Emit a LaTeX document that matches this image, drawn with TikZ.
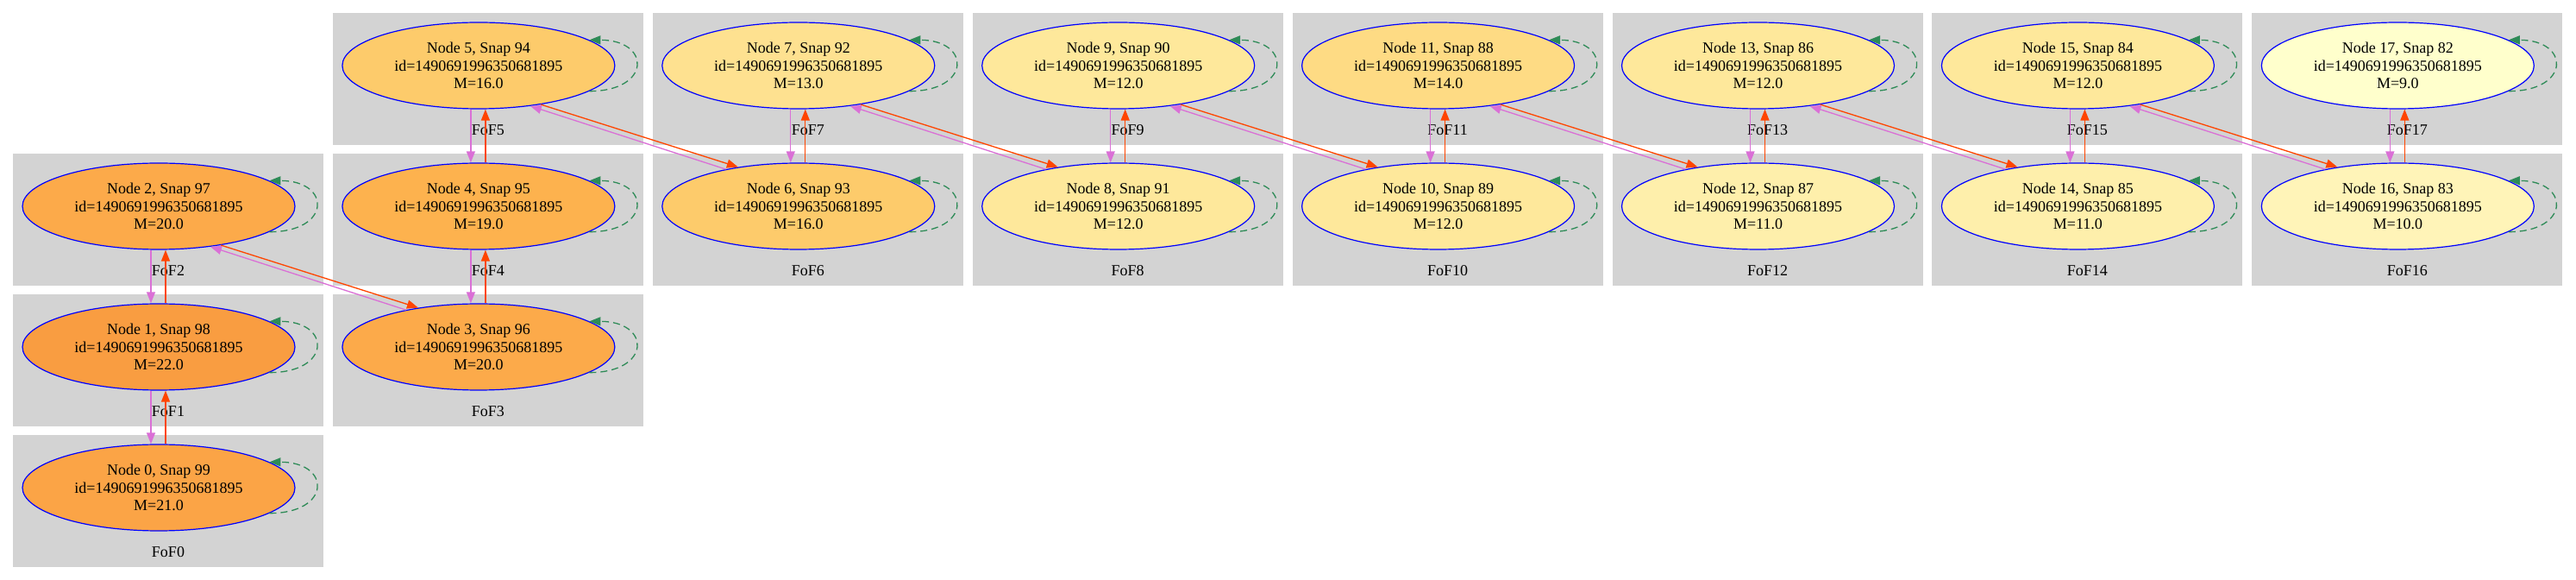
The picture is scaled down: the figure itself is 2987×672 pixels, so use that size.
\documentclass[tikz,border=0pt]{standalone}
\usepackage{fontspec}
\setmainfont{Liberation Serif}
\usetikzlibrary{arrows.meta,shapes.geometric}
\definecolor{fofgray}{HTML}{D3D3D3}
\definecolor{desccolor}{HTML}{DA70D6}
\definecolor{progcolor}{HTML}{FF4500}
\definecolor{selfcolor}{HTML}{2E8B57}
% node fill, by mass
\definecolor{m9}{HTML}{FFFFCC}
\definecolor{m10}{HTML}{FFF4B8}
\definecolor{m11}{HTML}{FEEFAB}
\definecolor{m12}{HTML}{FEE89B}
\definecolor{m13}{HTML}{FEE190}
\definecolor{m14}{HTML}{FEDB84}
\definecolor{m16}{HTML}{FDCB6B}
\definecolor{m19}{HTML}{FDB24E}
\definecolor{m20}{HTML}{FCAA4A}
\definecolor{m21}{HTML}{FBA446}
\definecolor{m22}{HTML}{F99D41}
\def\colsep{370.9}
\def\rowsep{163}
\def\haloid{1490691996350681895}
\newcommand{\fof}[5]{% node, column, row, snap, mass
  \fill[fofbox] (15+#2*\colsep, 15+#3*\rowsep) rectangle ++(360,153);
  \node[foflabel] at (195+#2*\colsep, 151+#3*\rowsep) {FoF#1};
  \node[halo, fill=m#5] (n#1) at (184+#2*\colsep, 76+#3*\rowsep)
    {Node #1, Snap #4\\id=\haloid\\M=#5.0};
  \draw[selfedge] (n#1.-13) .. controls +(72,0) and +(72,0) .. (n#1.13);
}
\newcommand{\vlink}[2]{% lower node, upper node
  \draw[descedge] ([shift={(-9,0)}]n#2.south) -- ([shift={(-9,0)}]n#1.north);
  \draw[progedge] ([shift={(8,0)}]n#1.north) -- ([shift={(8,0)}]n#2.south);
}
\newcommand{\dlink}[2]{% upper left node, lower right node
  \draw[progedge] (n#1.-32) -- (n#2.147);
  \draw[descedge] (n#2.153) -- (n#1.-38);
}

\begin{document}
\begin{tikzpicture}[x=0.5pt, y=-0.5pt,
    fofbox/.style={fill=fofgray},
    foflabel/.style={font=\fontsize{9}{10.2}\selectfont, inner sep=0pt},
    halo/.style={
        ellipse, draw=blue, line width=0.6pt,
        minimum width=158pt, minimum height=50pt, inner sep=0pt,
        align=center, font=\fontsize{9}{10.2}\selectfont
      },
    descedge/.style={desccolor, line width=0.65pt, -{Triangle[length=6.5pt, width=5pt]}},
    progedge/.style={progcolor, line width=0.65pt, -{Triangle[length=6.5pt, width=5pt]}},
    selfedge/.style={selfcolor, line width=0.65pt, dash pattern=on 4pt off 2.5pt,
        -{Triangle[length=6.5pt, width=5pt]}}]
  \useasboundingbox (0,0) rectangle (2987,672);

  % clusters: node, column, row, snap, mass
  \fof{0}{0}{3}{99}{21}
  \fof{1}{0}{2}{98}{22}
  \fof{2}{0}{1}{97}{20}
  \fof{3}{1}{2}{96}{20}
  \fof{4}{1}{1}{95}{19}
  \fof{5}{1}{0}{94}{16}
  \fof{6}{2}{1}{93}{16}
  \fof{7}{2}{0}{92}{13}
  \fof{8}{3}{1}{91}{12}
  \fof{9}{3}{0}{90}{12}
  \fof{10}{4}{1}{89}{12}
  \fof{11}{4}{0}{88}{14}
  \fof{12}{5}{1}{87}{11}
  \fof{13}{5}{0}{86}{12}
  \fof{14}{6}{1}{85}{11}
  \fof{15}{6}{0}{84}{12}
  \fof{16}{7}{1}{83}{10}
  \fof{17}{7}{0}{82}{9}

  % links along the chain
  \vlink{0}{1}   \vlink{1}{2}   \dlink{2}{3}
  \vlink{3}{4}   \vlink{4}{5}   \dlink{5}{6}
  \vlink{6}{7}   \dlink{7}{8}
  \vlink{8}{9}   \dlink{9}{10}
  \vlink{10}{11} \dlink{11}{12}
  \vlink{12}{13} \dlink{13}{14}
  \vlink{14}{15} \dlink{15}{16}
  \vlink{16}{17}
\end{tikzpicture}
\end{document}
